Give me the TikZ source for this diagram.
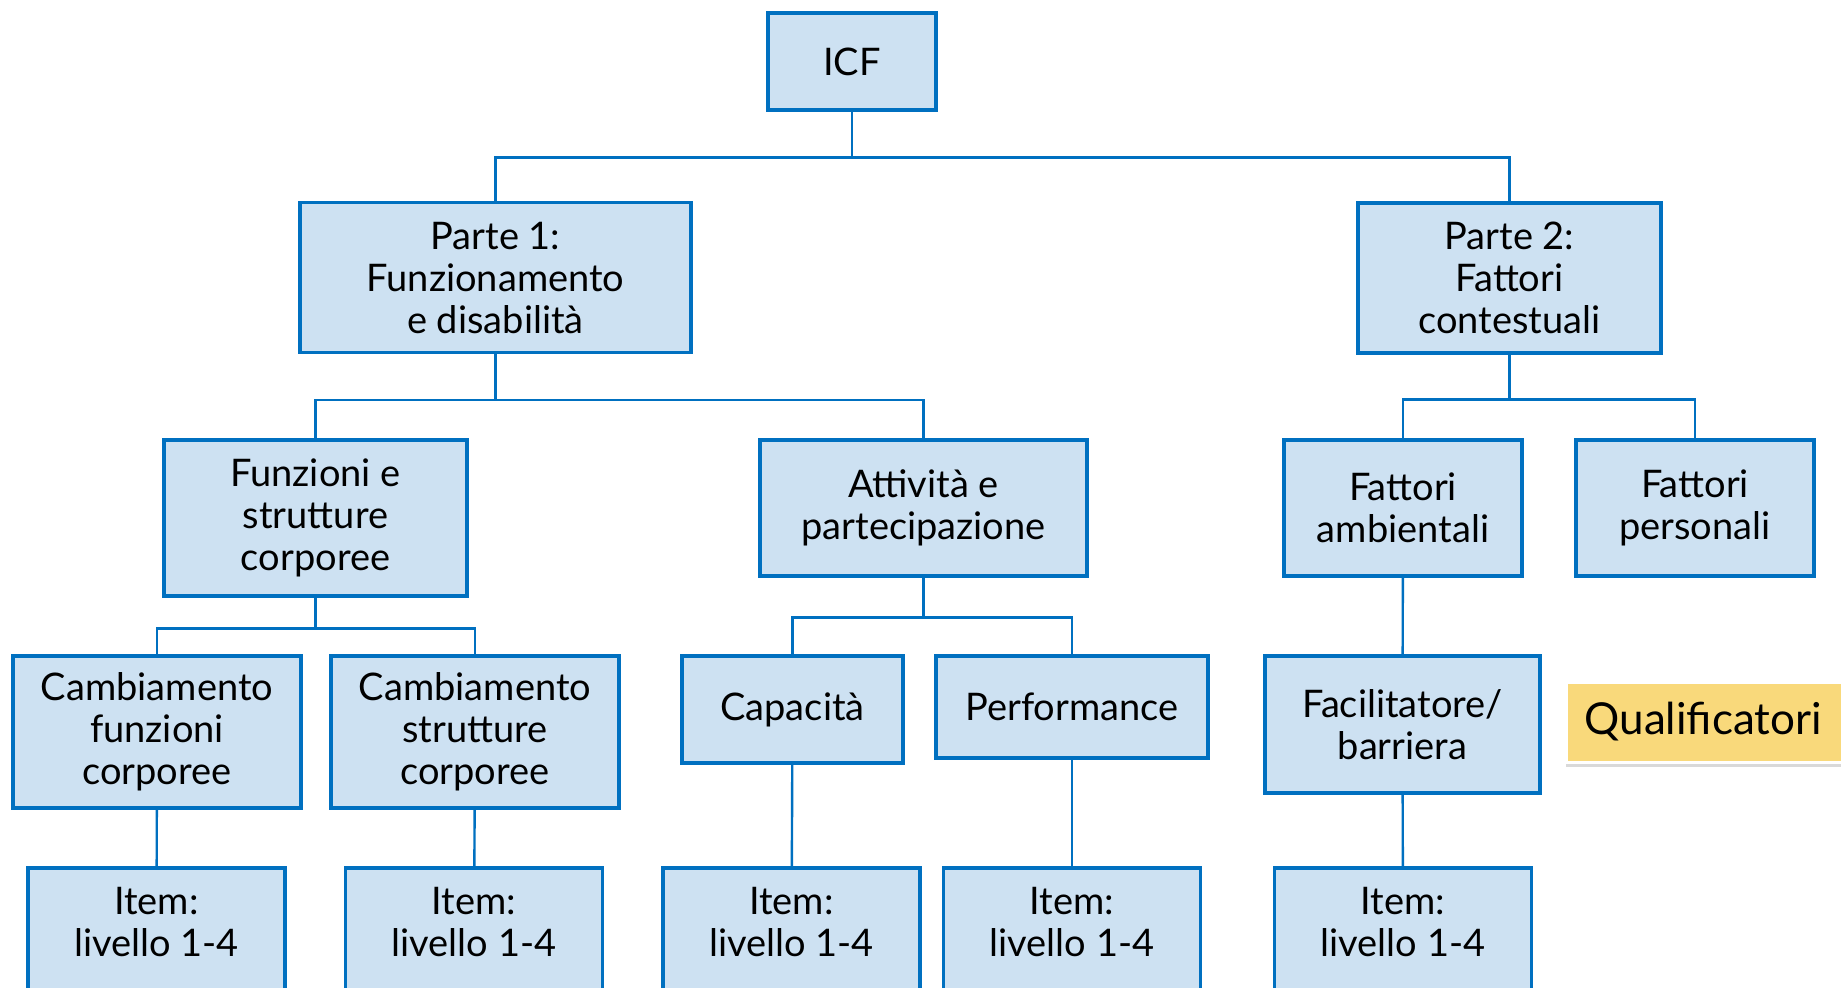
\documentclass[tikz,border=0pt]{standalone}
\usepackage{fontspec}
\setmainfont{Lato}
\usetikzlibrary{shadows}

\definecolor{icfblue}{RGB}{0,112,192}
\definecolor{icffill}{RGB}{205,225,242}
\definecolor{qualyellow}{RGB}{249,217,123}

\tikzset{
  box/.style={draw=icfblue, fill=icffill, line width=1.6pt, rectangle, align=center,
    inner sep=2pt, font=\fontsize{19}{21}\selectfont},
  link/.style={draw=icfblue, line width=1.2pt},
}

\begin{document}
\begin{tikzpicture}[x=0.5pt, y=-0.5pt]
\useasboundingbox (0,0) rectangle (1841,987);

% Root
\node[box, minimum width=84pt, minimum height=48.5pt] (icf) at (852,61.5) {ICF};

% Parts
\node[box, minimum width=195.5pt, minimum height=75pt] (parte1) at (495.5,277.5) {Parte 1:\\Funzionamento\\e disabilità};
\node[box, minimum width=151.5pt, minimum height=75pt] (parte2) at (1509.5,278) {Parte 2:\\Fattori\\contestuali};

% Components
\node[box, minimum width=151.5pt, minimum height=78pt] (funz) at (315.5,518) {Funzioni e\\strutture\\corporee};
\node[box, minimum width=163.5pt, minimum height=68pt] (att) at (923.5,508) {Attività e\\partecipazione};
\node[box, minimum width=119pt, minimum height=68pt] (amb) at (1403,508) {Fattori\\ambientali};
\node[box, minimum width=119pt, minimum height=68pt] (pers) at (1695,508) {Fattori\\personali};

% Constructs
\node[box, minimum width=144pt, minimum height=76pt] (cfun) at (157,732) {Cambiamento\\funzioni\\corporee};
\node[box, minimum width=144pt, minimum height=76pt] (cstr) at (475,732) {Cambiamento\\strutture\\corporee};
\node[box, minimum width=110.5pt, minimum height=53.5pt] (cap) at (792.5,709.5) {Capacità};
\node[box, minimum width=136pt, minimum height=51pt] (perf) at (1072,707) {Performance};
\node[box, minimum width=137.5pt, minimum height=68.5pt] (fac) at (1402.5,724.5) {Facilitatore/\\barriera};

% Items
\foreach \name/\x in {icfun/156.5, icstr/474, icap/791.5, iperf/1072, ifac/1403}
  \node[box, minimum width=128.5pt, minimum height=75pt, text depth=21pt] (\name) at (\x,943) {Item:\\livello 1-4};

% Qualifiers
\node[fill=qualyellow, draw=white, line width=1.5pt, anchor=west, text width=150pt, align=left,
  inner xsep=9pt, minimum height=40pt, font=\fontsize{22}{24}\selectfont,
  drop shadow={opacity=0.3, shadow xshift=-0.5pt, shadow yshift=-2.5pt}] (qual) at (1565,722) {Qualificatori};

% Connectors
\foreach \child in {parte1, parte2}
  \draw[link] (icf.south) -- ++(0,46) -| (\child.north);
\foreach \child in {funz, att}
  \draw[link] (parte1.south) -- ++(0,46) -| (\child.north);
\foreach \child in {amb, pers}
  \draw[link] (parte2.south) -- ++(0,45) -| (\child.north);
\foreach \child in {cfun, cstr}
  \draw[link] (funz.south) -- ++(0,31) -| (\child.north);
\foreach \child in {cap, perf}
  \draw[link] (att.south) -- ++(0,40) -| (\child.north);
\draw[link] (amb) -- (fac);
\draw[link] (cfun) -- (icfun);
\draw[link] (cstr) -- (icstr);
\draw[link] (cap) -- (icap);
\draw[link] (perf) -- (iperf);
\draw[link] (fac) -- (ifac);
\end{tikzpicture}
\end{document}
